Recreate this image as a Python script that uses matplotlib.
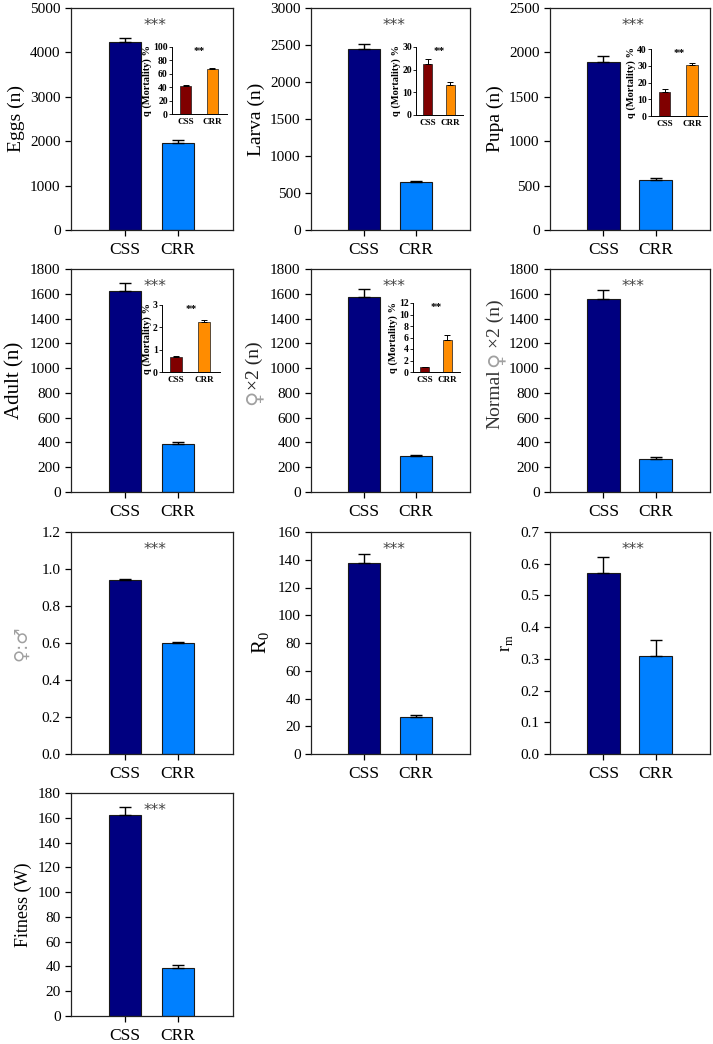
import numpy as np
import matplotlib
matplotlib.use('Agg')
import matplotlib.pyplot as plt

plt.rcParams['font.family'] = ['Liberation Serif', 'DejaVu Sans']

groups = ['CSS', 'CRR']

# main panels: (mean CSS, mean CRR), (se CSS, se CRR)
eggs = [4240, 1960];   eggs_err = [80, 60]
larva = [2440, 645];   larva_err = [70, 20]
pupa = [1890, 560];    pupa_err = [75, 20]
adult = [1620, 385];   adult_err = [70, 20]
fem2 = [1570, 288];    fem2_err = [70, 12]
normal = [1555, 270];  normal_err = [75, 10]
sexratio = [0.94, 0.60]; sexratio_err = [0.005, 0.003]
r0 = [137.5, 26.5];    r0_err = [7, 1.5]
rm = [0.57, 0.31];     rm_err = [0.05, 0.05]
fitness = [162, 39];   fitness_err = [7, 2]

# inset mortality q (%)
q_eggs = [42, 67];     q_eggs_err = [2, 1]
q_larva = [22.3, 13.3]; q_larva_err = [2.2, 1.3]
q_pupa = [14.5, 30.5]; q_pupa_err = [1.5, 1.0]
q_adult = [0.68, 2.22]; q_adult_err = [0.02, 0.12]
q_fem2 = [0.8, 5.6];   q_fem2_err = [0.05, 0.8]

W, H = 713, 1044
fig = plt.figure(figsize=(W / 100, H / 100), dpi=100)


def px_axes(l, t, r, b):
    return fig.add_axes([l / W, 1 - b / H, (r - l) / W, (b - t) / H])


def main_panel(box, vals, errs, ymax, step, ylabel, lsize=14, lcolor='black', fmt=None):
    ax = px_axes(*box)
    x = np.arange(2)
    ax.bar(x, vals, width=0.62, color=['#000080', '#0080ff'],
           edgecolor='#1a1a1a', linewidth=0.8, zorder=2)
    ax.errorbar(x, vals, yerr=[[0, 0], errs], fmt='none', ecolor='black',
                elinewidth=1, capsize=4.5, capthick=1, zorder=3)
    ax.set_xlim(-1.02, 2.04)
    ax.set_ylim(0, ymax)
    ticks = np.arange(0, ymax + step / 2, step)
    ax.set_yticks(ticks)
    if fmt:
        ax.set_yticklabels([fmt % t for t in ticks])
    ax.set_xticks(x)
    ax.set_xticklabels(groups, fontsize=12.5)
    ax.tick_params(axis='y', labelsize=11, direction='out', length=4, width=0.9)
    ax.tick_params(axis='x', direction='out', length=4, width=0.9, pad=5)
    for s in ax.spines.values():
        s.set_linewidth(0.9)
        s.set_color('#222222')
    if ylabel:
        ax.set_ylabel(ylabel, fontsize=lsize, color=lcolor)
    ax.text(0.52, 0.955, '***', transform=ax.transAxes, ha='center', va='top',
            fontsize=11, color='#444444', family='DejaVu Sans')
    return ax


def label_piece(ax, txt, yfrac, xoff, dy, ha, size, color, family=None):
    kw = {}
    if family:
        kw['family'] = family
    ax.annotate(txt, xy=(0, yfrac), xycoords='axes fraction',
                xytext=(xoff, dy), textcoords='offset points',
                rotation=90, rotation_mode='anchor', ha=ha, va='center',
                fontsize=size, color=color, **kw)


def inset(box, vals, errs, ymax, step):
    ax = px_axes(*box)
    x = np.arange(2)
    ax.bar(x, vals, width=0.42, color=['#800000', '#ff8c00'],
           edgecolor='#1a1a1a', linewidth=0.5, zorder=2)
    ax.errorbar(x, vals, yerr=[[0, 0], errs], fmt='none', ecolor='black',
                elinewidth=0.7, capsize=2, capthick=0.7, zorder=3)
    ax.set_xlim(-0.51, 1.56)
    ax.set_ylim(0, ymax)
    ax.set_yticks(np.arange(0, ymax + step / 2, step))
    ax.set_xticks(x)
    ax.set_xticklabels(groups)
    ax.spines['top'].set_visible(False)
    ax.spines['right'].set_visible(False)
    for s in ('left', 'bottom'):
        ax.spines[s].set_linewidth(0.7)
    ax.tick_params(axis='y', labelsize=7, length=2, width=0.6, pad=1)
    ax.tick_params(axis='x', labelsize=6.5, length=0, pad=3)
    for lab in ax.get_yticklabels() + ax.get_xticklabels():
        lab.set_fontweight('bold')
    ax.set_ylabel('q (Mortality) %', fontsize=7.5, fontweight='bold', labelpad=1)
    ax.text(0.5, 1.0, '**', transform=ax.transAxes, ha='center', va='top',
            fontsize=8, fontweight='bold')
    ax.patch.set_alpha(0)
    return ax


c1, c2, c3 = (71, 233), (311, 470), (550, 710)
r1, r2, r3, r4 = (8, 230), (269, 492), (532, 754), (793, 1016)

main_panel((c1[0], r1[0], c1[1], r1[1]), eggs, eggs_err, 5000, 1000, 'Eggs (n)', 14)
main_panel((c2[0], r1[0], c2[1], r1[1]), larva, larva_err, 3000, 500, 'Larva (n)', 14)
main_panel((c3[0], r1[0], c3[1], r1[1]), pupa, pupa_err, 2500, 500, 'Pupa (n)', 14)

main_panel((c1[0], r2[0], c1[1], r2[1]), adult, adult_err, 1800, 200, 'Adult (n)', 15)

ax5 = main_panel((c2[0], r2[0], c2[1], r2[1]), fem2, fem2_err, 1800, 200, None)
label_piece(ax5, '♀', 0.457, -41, 0, 'right', 15, '#a0a0a0', 'DejaVu Sans')
label_piece(ax5, '×2 (n)', 0.457, -41, 0, 'left', 14, '#222222')

ax6 = main_panel((c3[0], r2[0], c3[1], r2[1]), normal, normal_err, 1800, 200, None)
label_piece(ax6, '♀', 0.596, -39.5, 0, 'center', 15, '#a0a0a0', 'DejaVu Sans')
label_piece(ax6, 'Normal', 0.596, -39.5, -7.5, 'right', 14, '#333333')
label_piece(ax6, '×2 (n)', 0.596, -39.5, 8, 'left', 14, '#333333')

ax7 = main_panel((c1[0], r3[0], c1[1], r3[1]), sexratio, sexratio_err, 1.2, 0.2, None, fmt='%.1f')
label_piece(ax7, '♀:♂', 0.5, -36, 0, 'center', 13, '#a0a0a0', 'DejaVu Sans')

main_panel((c2[0], r3[0], c2[1], r3[1]), r0, r0_err, 160, 20, r'R$_\mathregular{0}$', 15)
main_panel((c3[0], r3[0], c3[1], r3[1]), rm, rm_err, 0.7, 0.1, r'r$_\mathregular{m}$', 13, 'black', '%.1f')

main_panel((c1[0], r4[0], c1[1], r4[1]), fitness, fitness_err, 180, 20, 'Fitness (W)', 13)

inset((172, 47, 227, 114), q_eggs, q_eggs_err, 100, 20)
inset((416, 47, 463, 115), q_larva, q_larva_err, 30, 10)
inset((651, 49, 707, 116), q_pupa, q_pupa_err, 40, 10)
inset((162, 305, 220, 372), q_adult, q_adult_err, 3, 1)
inset((413, 303, 460, 372), q_fem2, q_fem2_err, 12, 2)

fig.savefig('out.png', dpi=100)
